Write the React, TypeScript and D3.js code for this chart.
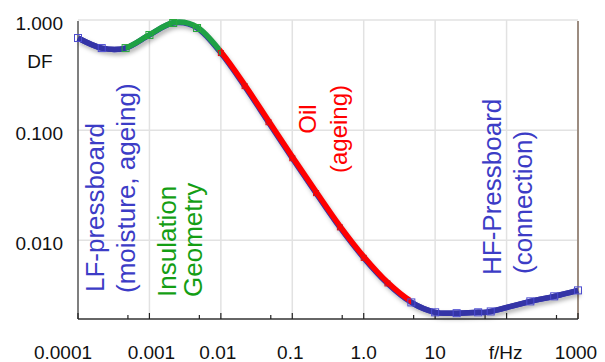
import React, { useRef, useEffect } from "react";
import * as d3 from "d3";

// frequency in Hz, dissipation factor DF
const freqs = [
  0.0001, 0.000215, 0.000464, 0.001, 0.00215, 0.00464, 0.01, 0.0215, 0.0464, 0.1, 0.215, 0.464,
  1, 2.15, 4.64, 10, 20, 40, 60, 215, 464, 1000,
];
const dfValues = [
  0.686, 0.556, 0.556, 0.731, 0.939, 0.846, 0.501, 0.251, 0.118, 0.0556, 0.0268, 0.0131,
  0.00693, 0.00406, 0.00273, 0.00222, 0.00218, 0.00222, 0.00226, 0.00279, 0.0031, 0.00351,
];

// frequency bands for colouring the curve
const bandNames = ["LF", "Insulation", "Oil", "HF"];
const bandEdges = [0.0001, 0.000464, 0.01, 4.64, 1000];
const bandColors = ["#3434a6", "#1ea145", "#ff0000", "#3434a6"];
const markerColors = ["#4c4cd0", "#28a83c", "#e01010", "#4c4cd0"];

const xTickValues = [0.0001, 0.001, 0.01, 0.1, 1, 10, 100, 1000];
const xTickLabels = ["0.0001", "0.001", "0.01", "0.1", "1.0", "10", "f/Hz", "1000"];
const xLabelShift = [-15, 2, -3, -2, 0, 0, -1, -2];
const xMinorTicks = [0.0005, 0.005, 0.05, 0.5, 5, 50, 500];
const yTickValues = [1, 0.1, 0.01];
const yTickLabels = ["1.000", "0.100", "0.010"];

const W = 605;
const H = 362;
const left = 78;
const right = 578;
const top = 20;
const bottom = 319;

const App = () => {
  const svgRef = useRef(null);

  useEffect(() => {
    const svg = d3.select(svgRef.current);
    svg.selectAll("*").remove();

    const xScale = d3.scaleLog().domain([0.0001, 1000]).range([left, right]);
    const yScale = d3.scaleLog().domain([0.00193, 1]).range([bottom, top]);

    const data = freqs.map((f, i) => ({ f, v: dfValues[i] }));
    const bandOf = (f) => {
      for (let b = 0; b < bandNames.length; b++) {
        if (f < bandEdges[b + 1] - 1e-9) return b;
      }
      return bandNames.length - 1;
    };

    const defs = svg.append("defs");
    const shadow = defs.append("filter").attr("id", "shadow").attr("x", "-10%").attr("y", "-10%")
      .attr("width", "120%").attr("height", "130%");
    shadow.append("feDropShadow").attr("dx", 2).attr("dy", 3).attr("stdDeviation", 2)
      .attr("flood-color", "#000").attr("flood-opacity", 0.3);

    bandNames.forEach((name, b) => {
      defs.append("clipPath").attr("id", "clip-" + name)
        .append("rect")
        .attr("x", xScale(bandEdges[b]) - (b === 0 ? 10 : 0))
        .attr("y", 0)
        .attr("width", xScale(bandEdges[b + 1]) - xScale(bandEdges[b]) + (b === 0 || b === 3 ? 10 : 0))
        .attr("height", H);
    });

    // grid
    const grid = svg.append("g").attr("stroke", "#e2e2e2").attr("stroke-width", 1.5);
    xTickValues.slice(1, -1).forEach((v) => {
      grid.append("line").attr("x1", xScale(v)).attr("x2", xScale(v)).attr("y1", top).attr("y2", bottom);
    });
    yTickValues.forEach((v) => {
      grid.append("line").attr("x1", left).attr("x2", right).attr("y1", yScale(v)).attr("y2", yScale(v));
    });

    // frame
    svg.append("line").attr("x1", right).attr("x2", right).attr("y1", top + 1).attr("y2", bottom)
      .attr("stroke", "#9c8c80").attr("stroke-width", 2);
    svg.append("line").attr("x1", left).attr("x2", left).attr("y1", top + 1).attr("y2", bottom)
      .attr("stroke", "#555").attr("stroke-width", 1.5);
    svg.append("line").attr("x1", left).attr("x2", right).attr("y1", bottom).attr("y2", bottom)
      .attr("stroke", "#333").attr("stroke-width", 1.5);

    const ticks = svg.append("g").attr("stroke", "#222").attr("stroke-width", 1.2);
    xTickValues.forEach((v) => {
      ticks.append("line").attr("x1", xScale(v)).attr("x2", xScale(v)).attr("y1", bottom).attr("y2", bottom - 6);
    });
    xMinorTicks.forEach((v) => {
      ticks.append("line").attr("x1", xScale(v)).attr("x2", xScale(v)).attr("y1", bottom).attr("y2", bottom - 4);
    });

    // tick labels
    const font = "'Liberation Sans', Arial, sans-serif";
    xTickValues.forEach((v, i) => {
      svg.append("text").attr("x", xScale(v) + xLabelShift[i]).attr("y", 358.5)
        .attr("text-anchor", "middle").attr("font-family", font).attr("font-size", 19)
        .attr("fill", "#111").text(xTickLabels[i]);
    });
    yTickValues.forEach((v, i) => {
      svg.append("text").attr("x", 63).attr("y", yScale(v) + 10)
        .attr("text-anchor", "end").attr("font-family", font).attr("font-size", 19)
        .attr("fill", "#111").text(yTickLabels[i]);
    });
    svg.append("text").attr("x", 40).attr("y", 68).attr("text-anchor", "middle")
      .attr("font-family", font).attr("font-size", 19).attr("fill", "#111").text("DF");

    // curve
    const line = d3.line()
      .x((d) => xScale(d.f))
      .y((d) => yScale(d.v))
      .curve(d3.curveCardinal.tension(0));
    const pathD = line(data);

    svg.append("path").attr("d", pathD).attr("fill", "none")
      .attr("stroke", "#3434a6").attr("stroke-width", 5.5).attr("filter", "url(#shadow)");

    bandNames.forEach((name, b) => {
      svg.append("g").attr("clip-path", "url(#clip-" + name + ")")
        .append("path").attr("d", pathD).attr("fill", "none")
        .attr("transform", b === 1 || b === 2 ? "translate(0.6,-0.6)" : null)
        .attr("stroke", bandColors[b]).attr("stroke-width", 5.5);
    });

    svg.append("g").selectAll("rect").data(data).enter().append("rect")
      .attr("x", (d) => xScale(d.f) - (bandOf(d.f) === 2 ? 2.5 : 3.5))
      .attr("y", (d) => yScale(d.v) - (bandOf(d.f) === 2 ? 2.5 : 3.5))
      .attr("width", (d) => (bandOf(d.f) === 2 ? 5 : 7))
      .attr("height", (d) => (bandOf(d.f) === 2 ? 5 : 7))
      .attr("fill", "none")
      .attr("stroke", (d) => markerColors[bandOf(d.f)])
      .attr("stroke-width", 1);

    // band annotations (rotated)
    const notes = [
      { text: "LF-pressboard", x: 103.5, y: 292, size: 26, color: "#3c3cc6", anchor: "start" },
      { text: "(moisture, ageing)", x: 134.5, y: 293, size: 26, color: "#3c3cc6", anchor: "start" },
      { text: "Insulation", x: 175.5, y: 297, size: 26, color: "#149e14", anchor: "start" },
      { text: "Geometry", x: 201.5, y: 297, size: 26, color: "#149e14", anchor: "start" },
      { text: "Oil", x: 316, y: 119, size: 24, color: "#ff0000", anchor: "middle" },
      { text: "(ageing)", x: 347, y: 129, size: 24, color: "#ff0000", anchor: "middle" },
      { text: "HF-Pressboard", x: 500.5, y: 275, size: 26, color: "#3c3cc6", anchor: "start" },
      { text: "(connection)", x: 531.5, y: 274, size: 26, color: "#3c3cc6", anchor: "start" },
    ];
    notes.forEach((n) => {
      svg.append("text").attr("transform", `translate(${n.x}, ${n.y}) rotate(-90)`)
        .attr("text-anchor", n.anchor).attr("font-family", font).attr("font-size", n.size)
        .attr("fill", n.color).text(n.text);
    });
  }, []);

  return (
    <svg ref={svgRef} width={W} height={H}
      style={{ position: "absolute", left: 0, top: 0, background: "#fff" }} />
  );
};

export default App;
